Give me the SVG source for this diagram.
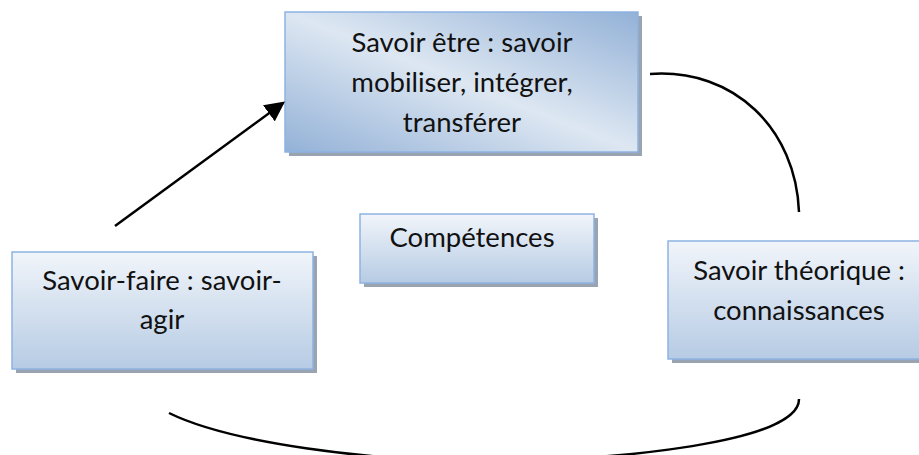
<svg xmlns="http://www.w3.org/2000/svg" width="919" height="455" viewBox="0 0 919 455">
<style>
.box{stroke:#8db3e2;stroke-width:1.5}
.shadow{fill:#9aa3b0}
.t{font-family:Lato,"Liberation Sans",sans-serif;font-size:27.5px;fill:#111;text-anchor:middle}
.conn{fill:none;stroke:#000;stroke-width:2.5}
</style>
<defs>
<linearGradient id="gDiag" x1="0" y1="1" x2="1" y2="0">
<stop offset="0" stop-color="#93b1d7"/>
<stop offset="0.5" stop-color="#dde7f2"/>
<stop offset="1" stop-color="#93b1d7"/>
</linearGradient>
<linearGradient id="gV" x1="0" y1="0" x2="0" y2="1">
<stop offset="0" stop-color="#f1f5fa"/>
<stop offset="1" stop-color="#b6cbe4"/>
</linearGradient>
<marker id="arr" markerWidth="8" markerHeight="8" refX="7" refY="4" orient="auto" markerUnits="strokeWidth">
<path d="M0,0 L8,4 L0,8 Z" fill="#000"/>
</marker>
</defs>
<g id="savoir-etre">
<rect class="shadow" x="289" y="16" width="353" height="140"/>
<rect class="box" x="285" y="12" width="353" height="140" fill="url(#gDiag)"/>
<text class="t" x="462" y="52">Savoir être : savoir</text>
<text class="t" x="462" y="92">mobiliser, intégrer,</text>
<text class="t" x="462" y="132">transférer</text>
</g>
<g id="competences">
<rect class="shadow" x="364" y="218" width="234" height="69"/>
<rect class="box" x="360" y="214" width="234" height="69" fill="url(#gV)"/>
<text class="t" x="472" y="247">Compétences</text>
</g>
<g id="savoir-faire">
<rect class="shadow" x="16" y="256" width="301" height="117"/>
<rect class="box" x="12" y="252" width="301" height="117" fill="url(#gV)"/>
<text class="t" x="162" y="290">Savoir-faire : savoir-</text>
<text class="t" x="162" y="329">agir</text>
</g>
<g id="savoir-theorique">
<rect class="shadow" x="672" y="245" width="262" height="118"/>
<rect class="box" x="668" y="241" width="262" height="118" fill="url(#gV)"/>
<text class="t" x="799" y="280">Savoir théorique :</text>
<text class="t" x="799" y="320">connaissances</text>
</g>
<g id="connectors">
<path class="conn" d="M115,226 L283,103" marker-end="url(#arr)"/>
<path class="conn" d="M650,74 C735,68 796,130 799,212"/>
<path class="conn" d="M169,413 C230,443 370,461 478,461 C620,461 800,442 799,399"/>
</g>
</svg>
